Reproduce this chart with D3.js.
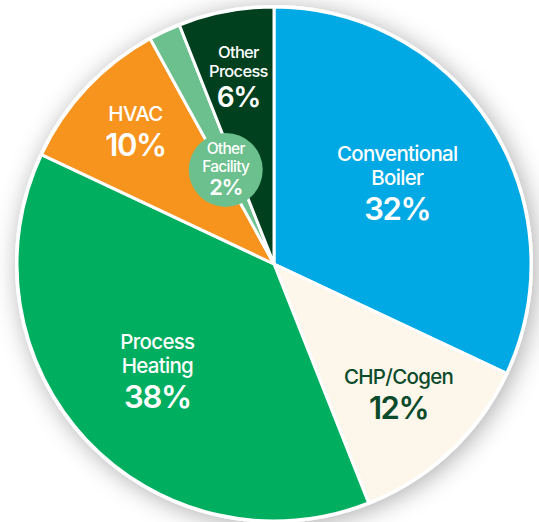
<!DOCTYPE html>
<html>
<head>
<meta charset="UTF-8">
<style>
html, body {
  margin: 0;
  padding: 0;
  background: #fff;
}
svg {
  display: block;
  font-family: Inter, "Open Sans", sans-serif;
}
.name {
  font-weight: 500;
  letter-spacing: -0.7px;
}
.pct {
  font-weight: 600;
  letter-spacing: -1.4px;
}
</style>
</head>
<body>
<svg width="539" height="522"></svg>
<script src="https://cdn.jsdelivr.net/npm/d3@7"></script>
<script>
// slices, clockwise from 12 o'clock
var categories = ["Conventional Boiler", "CHP/Cogen", "Process Heating", "HVAC", "Other Facility", "Other Process"];
var values = [32, 12, 38, 10, 2, 6];
var nameLines = [["Conventional", "Boiler"], ["CHP/Cogen"], ["Process", "Heating"], ["HVAC"], ["Other", "Facility"], ["Other", "Process"]];

var fills = ["#00a9e4", "#fdf6eb", "#00ae5f", "#f7941e", "#6bc08d", "#00401f"];
var textColors = ["#fff", "#0b4a2a", "#fff", "#fff", "#fff", "#fff"];
// label placement: distance from the centre, small sideways nudge
var labelR = [146, 182, 160, 190, 104, 190];
var labelDx = [0, 0, 0, 0, -4, 0];

var svg = d3.select("svg"),
    cx = 274, cy = 264, radius = 257;

var defs = svg.append("defs");
var shadow = defs.append("filter")
    .attr("id", "shadow")
    .attr("x", "-20%").attr("y", "-20%")
    .attr("width", "140%").attr("height", "140%");
shadow.append("feDropShadow")
    .attr("dx", 3).attr("dy", 3)
    .attr("stdDeviation", 12)
    .attr("flood-color", "#000")
    .attr("flood-opacity", 0.32);

var pie = d3.pie().sort(null).value(function(d) { return d; });
var arcs = pie(values);
var arc = d3.arc().innerRadius(0).outerRadius(radius);

var g = svg.append("g").attr("transform", "translate(" + cx + "," + cy + ")");

// white disc underneath carries the shadow and the outer rim
g.append("circle")
    .attr("r", radius + 2)
    .attr("fill", "#fff")
    .attr("filter", "url(#shadow)");

g.selectAll("path.slice")
  .data(arcs)
  .enter().append("path")
    .attr("class", "slice")
    .attr("d", arc)
    .attr("fill", function(d, i) { return fills[i]; })
    .attr("stroke", "#fff")
    .attr("stroke-width", 3)
    .attr("stroke-linejoin", "round");

function labelPos(i) {
  var a = (arcs[i].startAngle + arcs[i].endAngle) / 2;
  return [Math.sin(a) * labelR[i] + labelDx[i], -Math.cos(a) * labelR[i]];
}

// the tiny slice gets its label on a round badge
var small = categories.indexOf("Other Facility");
var sp = labelPos(small);
g.append("circle")
    .attr("cx", sp[0]).attr("cy", sp[1])
    .attr("r", 37)
    .attr("fill", fills[small]);

arcs.forEach(function(d, i) {
  var p = labelPos(i);
  var isSmall = (i == small);
  var narrow = (i == 5);
  var nameSize = isSmall ? 15.5 : (narrow ? 16.5 : 20.5);
  var lineH = isSmall ? 18 : (narrow ? 19 : 24);
  var pctSize = isSmall ? 22 : (narrow ? 28 : 31);
  var gap = isSmall ? 23 : (narrow ? 30 : 35);
  var lines = nameLines[i];
  var total = (lines.length - 1) * lineH + gap;
  var y0 = p[1] - total / 2 + 5;

  var t = g.append("g").attr("fill", textColors[i]).attr("text-anchor", "middle");
  lines.forEach(function(s, k) {
    t.append("text")
      .attr("class", "name")
      .attr("x", p[0])
      .attr("y", y0 + k * lineH)
      .attr("font-size", nameSize)
      .text(s);
  });
  t.append("text")
    .attr("class", "pct")
    .attr("x", p[0])
    .attr("y", y0 + (lines.length - 1) * lineH + gap)
    .attr("font-size", pctSize)
    .text(values[i] + "%");
});
</script>
</body>
</html>
